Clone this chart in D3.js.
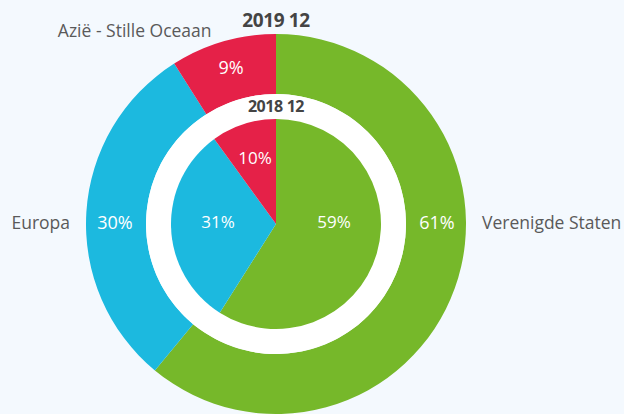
<!DOCTYPE html>
<html>
<head>
<meta charset="utf-8">
<script src="https://cdn.jsdelivr.net/npm/d3@7"></script>
<style>
  body { margin: 0; background: #f4f9fe; }
  svg { display: block; font-family: "Open Sans", sans-serif; }
</style>
</head>
<body>
<svg id="chart"></svg>
<script>
// regions, outer ring = 2019 12, inner pie = 2018 12
var regions = ["Verenigde Staten", "Europa", "Azië - Stille Oceaan"];
var colors = ["#76b82a", "#1cb9df", "#e52148"];
var values2019 = [61, 30, 9];
var values2018 = [59, 31, 10];
var title2019 = "2019 12";
var title2018 = "2018 12";

var width = 624, height = 414;
var cx = 276, cy = 224;
var outerR = 190, ringR = 130, innerR = 105;

var svg = d3.select("#chart").attr("width", width).attr("height", height);
var g = svg.append("g").attr("transform", "translate(" + cx + "," + cy + ")");

var pie = d3.pie().sort(null).value(function (d) { return d; });

// label angle: sits on the horizontal if the slice crosses it, else middle of slice
function labelAngle(d) {
    var mid = (d.startAngle + d.endAngle) / 2;
    var marks = [Math.PI / 2, 3 * Math.PI / 2];
    for (var i = 0; i < marks.length; i++) {
        if (d.startAngle < marks[i] && d.endAngle > marks[i]) return marks[i];
    }
    return mid;
}
function isMid(d) { return labelAngle(d) === (d.startAngle + d.endAngle) / 2; }
function polar(a, r) { return [Math.sin(a) * r, -Math.cos(a) * r]; }

var outerArcs = pie(values2019);
var innerArcs = pie(values2018);

var outerArc = d3.arc().innerRadius(ringR).outerRadius(outerR);
g.selectAll(".outer")
    .data(outerArcs)
    .enter().append("path")
    .attr("class", "outer")
    .attr("d", outerArc)
    .attr("fill", function (d, i) { return colors[i]; });

g.append("circle").attr("r", ringR).attr("fill", "#ffffff");

var innerArc = d3.arc().innerRadius(0).outerRadius(innerR);
g.selectAll(".inner")
    .data(innerArcs)
    .enter().append("path")
    .attr("class", "inner")
    .attr("d", innerArc)
    .attr("fill", function (d, i) { return colors[i]; });

// percentage labels
g.selectAll(".outer-pct")
    .data(outerArcs)
    .enter().append("text")
    .attr("class", "outer-pct")
    .attr("transform", function (d) { return "translate(" + polar(labelAngle(d), 161) + ")"; })
    .attr("text-anchor", "middle")
    .attr("dy", "0.25em")
    .attr("fill", "#fff")
    .style("font-size", "18px")
    .text(function (d) { return d.data + "%"; });

g.selectAll(".inner-pct")
    .data(innerArcs)
    .enter().append("text")
    .attr("class", "inner-pct")
    .attr("transform", function (d) {
        return "translate(" + polar(labelAngle(d), isMid(d) ? 68 : 58) + ")";
    })
    .attr("text-anchor", "middle")
    .attr("dy", "0.25em")
    .attr("fill", "#fff")
    .style("font-size", "17px")
    .text(function (d) { return d.data + "%"; });

// region names outside the ring
g.selectAll(".name")
    .data(outerArcs)
    .enter().append("text")
    .attr("class", "name")
    .attr("transform", function (d) { return "translate(" + polar(labelAngle(d), 206) + ")"; })
    .attr("text-anchor", function (d) { return labelAngle(d) < Math.PI ? "start" : "end"; })
    .attr("dx", function (d) { return isMid(d) ? -7 : 0; })
    .attr("dy", function (d) { return isMid(d) ? "0.6em" : "0.3em"; })
    .attr("fill", "#5a5a5a")
    .style("font-size", "17.5px")
    .text(function (d, i) { return regions[i]; });

// titles
g.append("text")
    .attr("x", 0).attr("y", -outerR - 7)
    .attr("text-anchor", "middle")
    .attr("fill", "#444")
    .style("font-size", "19px").style("font-weight", "bold")
    .style("letter-spacing", "-0.4px")
    .text(title2019);

g.append("text")
    .attr("x", 0).attr("y", -(innerR + ringR) / 2)
    .attr("dy", "0.35em")
    .attr("text-anchor", "middle")
    .attr("fill", "#444")
    .style("font-size", "16px").style("font-weight", "bold")
    .style("letter-spacing", "-0.4px")
    .text(title2018);
</script>
</body>
</html>
